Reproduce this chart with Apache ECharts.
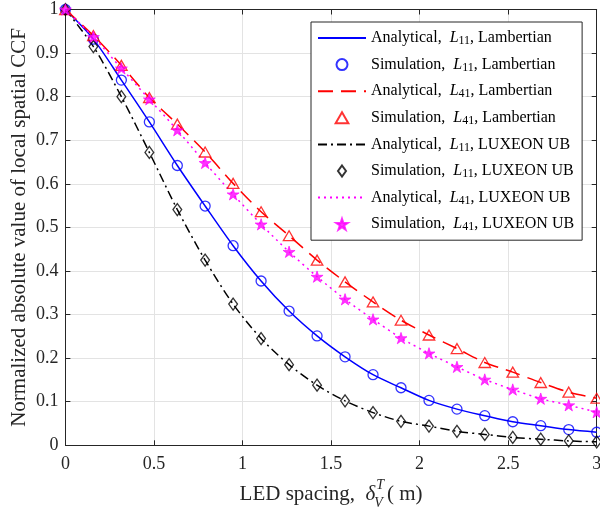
<!DOCTYPE html>
<html><head><meta charset="utf-8">
<script src="https://cdn.jsdelivr.net/npm/echarts@6/dist/echarts.min.js"></script>
<style>html,body{margin:0;padding:0;background:#fff}#c{width:600px;height:516px}</style>
</head><body><div id="c"></div>
<script>
// ---- data ----
const xValues = [0, 0.158, 0.316, 0.474, 0.632, 0.789, 0.947, 1.105, 1.263, 1.421, 1.579, 1.737, 1.895, 2.053, 2.211, 2.368, 2.526, 2.684, 2.842, 3];
const L11Lambertian = [1, 0.932, 0.838, 0.742, 0.642, 0.549, 0.458, 0.377, 0.308, 0.251, 0.203, 0.162, 0.132, 0.103, 0.083, 0.068, 0.054, 0.045, 0.036, 0.030];
const L41Lambertian = [1, 0.940, 0.872, 0.798, 0.737, 0.673, 0.601, 0.536, 0.481, 0.425, 0.375, 0.329, 0.287, 0.253, 0.222, 0.190, 0.168, 0.144, 0.122, 0.108];
const L11Luxeon = [1, 0.915, 0.800, 0.672, 0.541, 0.425, 0.324, 0.245, 0.185, 0.138, 0.102, 0.075, 0.055, 0.044, 0.032, 0.025, 0.018, 0.014, 0.010, 0.008];
const L41Luxeon = [1, 0.937, 0.865, 0.794, 0.723, 0.648, 0.576, 0.507, 0.444, 0.387, 0.335, 0.289, 0.246, 0.211, 0.180, 0.151, 0.128, 0.107, 0.092, 0.076];
const xTicks = [0, 0.5, 1, 1.5, 2, 2.5, 3];
const yTicks = [0, 0.1, 0.2, 0.3, 0.4, 0.5, 0.6, 0.7, 0.8, 0.9, 1];
const seriesNames = [
  'Analytical,  L11, Lambertian', 'Simulation,  L11, Lambertian',
  'Analytical,  L41, Lambertian', 'Simulation,  L41, Lambertian',
  'Analytical,  L11, LUXEON UB', 'Simulation,  L11, LUXEON UB',
  'Analytical,  L41, LUXEON UB', 'Simulation,  L41, LUXEON UB'
];
const yAxisTitle = 'Normalized absolute value of local spatial CCF';

// ---- chart ----
const FONT = '"Liberation Serif", "Times New Roman", serif';
const AX = '#262626';
const pairs = v => xValues.map((x, i) => [x, v[i]]);
const STAR = 'path://M50 0 L61.17 34.63 L97.55 34.55 L68.07 55.87 L79.39 90.45 L50 69 L20.61 90.45 L31.93 55.87 L2.45 34.55 L38.83 34.63 Z';
const TRI = 'path://M50 0 L100 86.6 L0 86.6 Z';
const DIA = 'path://M40 0 L80 55 L40 110 L0 55 Z';

const grid = {left: 65.4, right: 3.3, top: 9.5, bottom: 70.7, outerBoundsMode: 'none', containLabel: false};
const chart = echarts.init(document.getElementById('c'), null, {renderer: 'canvas'});

function lineSeries(name, data, color, type) {
  return {name, type: 'line', data: pairs(data), smooth: 0.3, symbol: 'none', showSymbol: false,
    lineStyle: {color, width: 1.5, type}, itemStyle: {color}, z: 2, animation: false};
}
function scatterSeries(name, data, color, symbol, size, filled) {
  return {name, type: 'scatter', data: pairs(data), symbol, symbolSize: size, symbolKeepAspect: true,
    itemStyle: {color: filled ? color : 'rgba(0,0,0,0)', borderColor: color, borderWidth: filled ? 0.8 : 1.3}, z: 3, animation: false};
}

const axisCommon = {
  axisLine: {show: true, onZero: false, lineStyle: {color: AX, width: 1}},
  axisTick: {show: true, inside: true, length: 5, lineStyle: {color: AX, width: 1}},
};

const option = {
  backgroundColor: '#fff',
  animation: false,
  grid,
  xAxis: [
    Object.assign({type: 'value', min: xTicks[0], max: xTicks[xTicks.length - 1], interval: 0.5, position: 'bottom',
      axisLabel: {fontFamily: FONT, fontSize: 18, color: AX, margin: 10, formatter: v => String(v)},
      splitLine: {show: true, lineStyle: {color: '#e3e3e3', width: 1}}}, axisCommon),
    Object.assign({type: 'value', min: xTicks[0], max: xTicks[xTicks.length - 1], interval: 0.5, position: 'top',
      axisLabel: {show: false}, splitLine: {show: false}}, axisCommon)
  ],
  yAxis: [
    Object.assign({type: 'value', min: yTicks[0], max: yTicks[yTicks.length - 1], interval: 0.1, position: 'left',
      name: yAxisTitle, nameLocation: 'middle', nameGap: 35, nameMoveOverlap: false,
      nameTextStyle: {fontFamily: FONT, fontSize: 21, color: AX},
      axisLabel: {fontFamily: FONT, fontSize: 18, color: AX, margin: 7, formatter: v => String(Math.round(v * 10) / 10)},
      splitLine: {show: true, lineStyle: {color: '#e3e3e3', width: 1}}}, axisCommon),
    Object.assign({type: 'value', min: yTicks[0], max: yTicks[yTicks.length - 1], interval: 0.1, position: 'right',
      axisLabel: {show: false}, splitLine: {show: false}}, axisCommon)
  ],
  legend: {
    orient: 'vertical', left: 311, top: 22,
    padding: [2, 8, 7, 6], itemGap: 3.6, itemWidth: 48, itemHeight: 11,
    symbolKeepAspect: true,
    backgroundColor: '#fff', borderColor: AX, borderWidth: 1, borderRadius: 0,
    selectedMode: false,
    textStyle: {fontFamily: FONT, fontSize: 16, color: '#000', lineHeight: 18,
      rich: {
        it: {fontFamily: FONT, fontSize: 16, fontStyle: 'italic', color: '#000', lineHeight: 18},
        sub: {fontFamily: FONT, fontSize: 12, color: '#000', verticalAlign: 'bottom', lineHeight: 12, padding: [11, 0, 0, 0]}
      }},
    formatter: n => n.replace(/L(\d\d)/, '{it|L}{sub|$1}'),
    data: seriesNames.map((n, i) => i % 2 === 0 ? {name: n, itemStyle: {opacity: 0}} : {name: n})
  },
  series: [
    lineSeries(seriesNames[0], L11Lambertian, '#0000ff', 'solid'),
    scatterSeries(seriesNames[1], L11Lambertian, '#0000ff', 'circle', 10, false),
    lineSeries(seriesNames[2], L41Lambertian, '#ff0000', [15, 8]),
    scatterSeries(seriesNames[3], L41Lambertian, '#ff0000', TRI, 11.5, false),
    lineSeries(seriesNames[4], L11Luxeon, '#000000', [9, 4, 2, 4]),
    scatterSeries(seriesNames[5], L11Luxeon, '#000000', DIA, 12, false),
    lineSeries(seriesNames[6], L41Luxeon, '#ff00ff', [2, 4]),
    scatterSeries(seriesNames[7], L41Luxeon, '#ff00ff', STAR, 12, true)
  ]
};
chart.setOption(option);

// ---- x-axis title with stacked super/subscript ----
const cv = document.createElement('canvas').getContext('2d');
function w(t, f) { cv.font = f; return cv.measureText(t).width; }
const fN = '21px ' + FONT, fI = 'italic 21px ' + FONT, fS = 'italic 14px ' + FONT;
const p1 = 'LED spacing,  ', p2 = 'δ', p3 = 'T', p4 = 'V', p5 = '( m)';
const w1 = w(p1, fN), w2 = w(p2, fI), w34 = Math.max(w(p3, fS), w(p4, fS)) + 3, w5 = w(p5, fN);
const total = w1 + w2 + w34 + w5;
const cx = (grid.left + (600 - grid.right)) / 2;
let x0 = cx - total / 2;
const yMid = 494;
const txt = (text, x, y, font) => ({type: 'text', x, y, silent: true,
  style: {text, font, fill: AX, verticalAlign: 'middle', align: 'left'}});
chart.setOption({graphic: [
  txt(p1, x0, yMid, fN),
  txt(p2, x0 + w1, yMid, fI),
  txt(p3, x0 + w1 + w2 + 1, yMid - 9, fS),
  txt(p4, x0 + w1 + w2 - 1, yMid + 9, fS),
  txt(p5, x0 + w1 + w2 + w34, yMid, fN)
]});
</script></body></html>
